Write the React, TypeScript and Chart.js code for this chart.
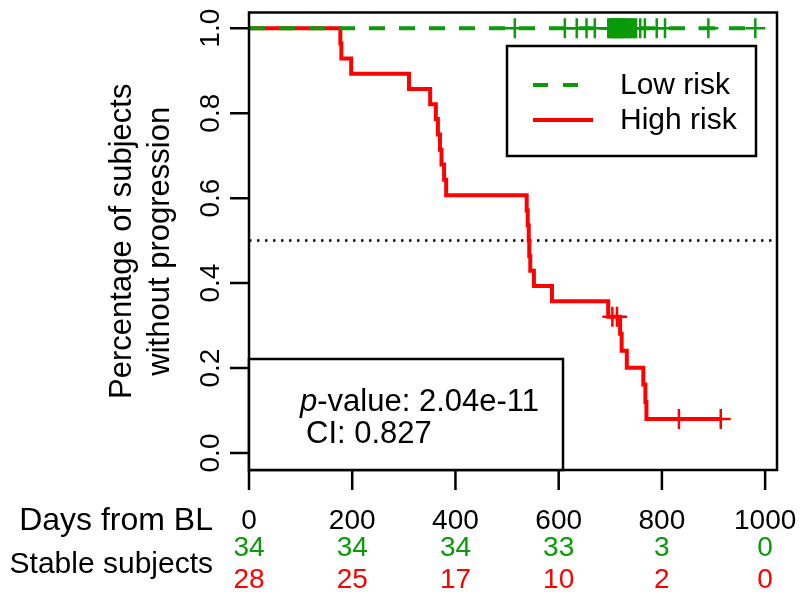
import React, { useEffect, useRef } from "react";
import { Chart, registerables } from "chart.js";

Chart.register(...registerables);

// ---- data ----
const highRiskTimes = [0, 177, 179, 198, 310, 351, 362, 366, 370, 373, 378, 382, 538, 540, 542, 543, 545, 552, 587, 696, 719, 722, 732, 764, 768, 770, 914];
const highRiskSurv = [1.0, 0.964, 0.929, 0.893, 0.857, 0.821, 0.786, 0.75, 0.714, 0.679, 0.643, 0.607, 0.571, 0.536, 0.5, 0.464, 0.429, 0.393, 0.357, 0.321, 0.281, 0.241, 0.201, 0.161, 0.12, 0.08, 0.08];
const highRiskCensorTimes = [704, 713, 833, 914];
const highRiskCensorSurv = [0.321, 0.321, 0.08, 0.08];

const lowRiskTimes = [0, 981];
const lowRiskSurv = [1.0, 1.0];
const lowRiskCensorTimes = [515, 612, 635, 654, 670, 696, 699, 701, 703, 705, 707, 709, 711, 713, 715, 717, 719, 721, 723, 725, 727, 730, 733, 736, 739, 742, 746, 750, 758, 767, 790, 806, 890, 981];

const xTicks = [0, 200, 400, 600, 800, 1000];
const yTicks = [0, 0.2, 0.4, 0.6, 0.8, 1.0];
const yTickLabels = ["0.0", "0.2", "0.4", "0.6", "0.8", "1.0"];
const riskLow = [34, 34, 34, 33, 3, 0];
const riskHigh = [28, 25, 17, 10, 2, 0];
const seriesNames = ["Low risk", "High risk"];
const medianLine = 0.5;
const pValueText = "2.04e-11";
const ciText = "CI: 0.827";

const GREEN = "#0a9a0a";
const RED = "#ff0000";
const FONT = '"Liberation Sans", Arial, Helvetica, sans-serif';

const decorPlugin = {
  id: "decor",
  beforeDatasetsDraw(chart: any) {
    const ctx = chart.ctx;
    const { left, right } = chart.chartArea;
    const y = chart.scales.y.getPixelForValue(medianLine);
    ctx.save();
    ctx.strokeStyle = "#000";
    ctx.lineWidth = 2.5;
    ctx.setLineDash([2.5, 5.5]);
    ctx.beginPath();
    ctx.moveTo(left, y);
    ctx.lineTo(right, y);
    ctx.stroke();
    ctx.restore();
  },
  afterDatasetsDraw(chart: any) {
    const ctx = chart.ctx;
    const xs = chart.scales.x;
    const ys = chart.scales.y;
    const { left, right, top, bottom } = chart.chartArea;
    ctx.save();
    ctx.strokeStyle = "#000";
    ctx.fillStyle = "#000";
    ctx.lineWidth = 2.5;
    ctx.setLineDash([]);
    // box
    ctx.strokeRect(left, top, right - left, bottom - top);
    // y ticks
    ctx.beginPath();
    yTicks.forEach((v) => {
      const py = ys.getPixelForValue(v);
      ctx.moveTo(left, py);
      ctx.lineTo(left - 19, py);
    });
    // x ticks
    xTicks.forEach((v) => {
      const px = xs.getPixelForValue(v);
      ctx.moveTo(px, bottom);
      ctx.lineTo(px, bottom + 20);
    });
    ctx.stroke();

    // y tick labels (rotated)
    ctx.font = `28px ${FONT}`;
    ctx.textAlign = "center";
    ctx.textBaseline = "middle";
    yTicks.forEach((v, i) => {
      const py = ys.getPixelForValue(v);
      ctx.save();
      ctx.translate(211, py);
      ctx.rotate(-Math.PI / 2);
      ctx.fillText(yTickLabels[i], 0, 0);
      ctx.restore();
    });
    // y title
    ctx.font = `31px ${FONT}`;
    const cy = (top + bottom) / 2;
    [["Percentage of subjects", 122], ["without progression", 160]].forEach(([t, x]: any) => {
      ctx.save();
      ctx.translate(x, cy);
      ctx.rotate(-Math.PI / 2);
      ctx.fillText(t, 0, 0);
      ctx.restore();
    });

    // x tick labels
    ctx.font = `28px ${FONT}`;
    xTicks.forEach((v) => {
      ctx.fillText(String(v), xs.getPixelForValue(v), 521);
    });
    ctx.textAlign = "right";
    ctx.font = `32px ${FONT}`;
    ctx.fillText("Days from BL", 213, 521);
    ctx.font = `30px ${FONT}`;
    ctx.fillText("Stable subjects", 213, 565);
    // risk table
    ctx.textAlign = "center";
    ctx.font = `28px ${FONT}`;
    xTicks.forEach((v, i) => {
      const px = xs.getPixelForValue(v);
      ctx.fillStyle = GREEN;
      ctx.fillText(String(riskLow[i]), px, 548);
      ctx.fillStyle = RED;
      ctx.fillText(String(riskHigh[i]), px, 580);
    });

    // legend
    ctx.fillStyle = "#fff";
    ctx.fillRect(507, 46, 249, 110);
    ctx.strokeStyle = "#000";
    ctx.lineWidth = 2.5;
    ctx.strokeRect(507, 46, 249, 110);
    ctx.lineWidth = 4;
    ctx.strokeStyle = GREEN;
    ctx.setLineDash([15, 15]);
    ctx.beginPath();
    ctx.moveTo(533, 85);
    ctx.lineTo(593, 85);
    ctx.stroke();
    ctx.setLineDash([]);
    ctx.strokeStyle = RED;
    ctx.beginPath();
    ctx.moveTo(533, 120);
    ctx.lineTo(593, 120);
    ctx.stroke();
    ctx.fillStyle = "#000";
    ctx.textAlign = "left";
    ctx.font = `30px ${FONT}`;
    ctx.fillText(seriesNames[0], 620, 86);
    ctx.fillText(seriesNames[1], 620, 121);

    // p-value box
    ctx.fillStyle = "#fff";
    ctx.fillRect(left, 359, 563 - left, bottom - 359);
    ctx.strokeStyle = "#000";
    ctx.lineWidth = 2.5;
    ctx.strokeRect(left, 359, 563 - left, bottom - 359);
    ctx.fillStyle = "#000";
    ctx.font = `italic 31px ${FONT}`;
    ctx.fillText("p", 300, 402);
    const pw = ctx.measureText("p").width;
    ctx.font = `31px ${FONT}`;
    ctx.fillText("-value: " + pValueText, 300 + pw, 402);
    ctx.fillText(ciText, 306, 434);
    ctx.restore();
  },
};

export default function App() {
  const ref = useRef<HTMLCanvasElement | null>(null);
  useEffect(() => {
    if (!ref.current) return;
    const chart = new Chart(ref.current, {
      type: "line",
      data: {
        datasets: [
          {
            label: "Low risk censored",
            data: lowRiskCensorTimes.map((t) => ({ x: t, y: 1.0 })),
            showLine: false,
            pointStyle: "cross",
            pointRadius: 10,
            pointBorderWidth: 2.5,
            pointBorderColor: GREEN,
            borderColor: GREEN,
            order: 0,
          },
          {
            label: seriesNames[0],
            data: lowRiskTimes.map((t, i) => ({ x: t, y: lowRiskSurv[i] })),
            stepped: "before",
            borderColor: GREEN,
            borderWidth: 4,
            borderDash: [16, 14],
            pointRadius: 0,
            order: 1,
          },
          {
            label: "High risk censored",
            data: highRiskCensorTimes.map((t, i) => ({ x: t, y: highRiskCensorSurv[i] })),
            showLine: false,
            pointStyle: "cross",
            pointRadius: 10,
            pointBorderWidth: 2.5,
            pointBorderColor: RED,
            borderColor: RED,
            order: 2,
          },
          {
            label: seriesNames[1],
            data: highRiskTimes.map((t, i) => ({ x: t, y: highRiskSurv[i] })),
            stepped: "before",
            borderColor: RED,
            borderWidth: 4,
            pointRadius: 0,
            order: 3,
          },
        ],
      },
      options: {
        animation: false,
        responsive: false,
        devicePixelRatio: 1,
        layout: { padding: { left: 249, right: 23, top: 7, bottom: 130 } },
        scales: {
          x: { type: "linear", min: 0, max: 1023, display: false },
          y: { type: "linear", min: -0.04, max: 1.037, display: false },
        },
        plugins: { legend: { display: false }, tooltip: { enabled: false } },
        elements: { line: { tension: 0 } },
      },
      plugins: [decorPlugin],
    } as any);
    return () => chart.destroy();
  }, []);
  return (
    <div style={{ position: "fixed", left: 0, top: 0, width: 800, height: 600, background: "#fff" }}>
      <canvas ref={ref} width={800} height={600} style={{ width: 800, height: 600 }} />
    </div>
  );
}
